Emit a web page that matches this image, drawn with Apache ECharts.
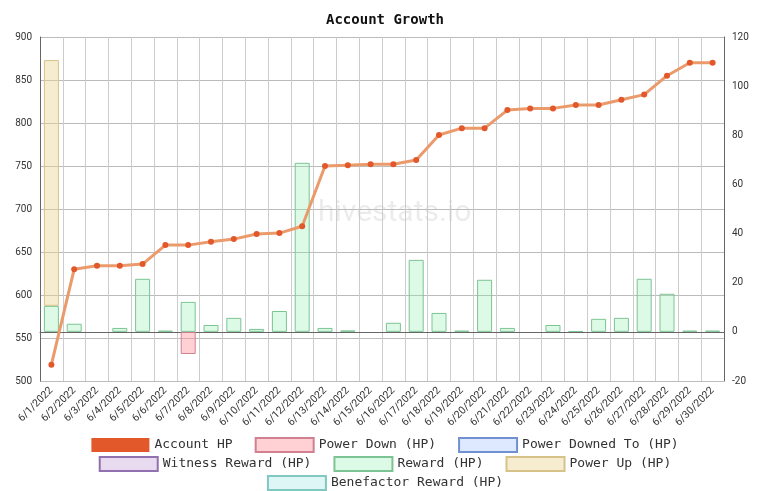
<!DOCTYPE html>
<html><head><meta charset="utf-8">
<script src="https://cdn.jsdelivr.net/npm/echarts@6/dist/echarts.min.js"></script>
<style>html,body{margin:0;background:#fff}#c{width:770px;height:491px}</style>
</head><body><div id="c"></div>
<script>
var days = []
for (var d = 1; d <= 30; d++) days.push('6/' + d + '/2022')

var accountHP = [519,630,634,634,636,658,658,662,665,671,672,680,750,751,752,752,757,786,794,794,815,817,817,821,821,827,833,855,870,870]
var reward = [10.6,3.3,null,1.6,21.6,0.5,12.2,2.8,5.7,1.2,8.5,68.8,1.6,0.6,null,3.7,29.3,7.7,0.5,21.2,1.6,null,2.8,0.3,5.3,5.7,21.6,15.5,0.5,0.5]
var powerUp = [100,null,null,null,null,null,null,null,null,null,null,null,null,null,null,null,null,null,null,null,null,null,null,null,null,null,null,null,null,null]
var powerDown = [null,null,null,null,null,null,-9,null,null,null,null,null,null,null,null,null,null,null,null,null,null,null,null,null,null,null,null,null,null,null]
var empty = days.map(() => null)

var font = 'DejaVu Sans Mono'
var chart = echarts.init(document.getElementById('c'))

var bar = (name, data, fill, border, stack) => ({
    name: name, type: 'bar', yAxisIndex: 1, stack: stack, data: data,
    barWidth: 15,
    itemStyle: {color: fill, borderColor: border, borderWidth: 1}
})

var legendBase = {
    itemWidth: 58, itemHeight: 14, itemGap: 22, icon: 'rect',
    textStyle: {fontFamily: font, fontSize: 13, color: '#333'}
}

chart.setOption({
    animation: false,
    title: {text: 'Account Growth', left: 'center', top: 8, textStyle: {fontFamily: font, fontSize: 14, fontWeight: 'bold', color: '#111'}},
    graphic: [{type: 'text', left: 318, top: 198, style: {text: 'hivestats.io', font: '30px Roboto', fill: 'rgba(0,0,0,0.08)'}}],
    legend: [
        Object.assign({top: 432, left: 'center', data: ['Account HP', 'Power Down (HP)', 'Power Downed To (HP)']}, legendBase),
        Object.assign({top: 451, left: 'center', data: ['Witness Reward (HP)', 'Reward (HP)', 'Power Up (HP)']}, legendBase),
        Object.assign({top: 470, left: 'center', data: ['Benefactor Reward (HP)']}, legendBase)
    ],
    grid: {left: 40, right: 46, top: 37, bottom: 110},
    xAxis: {
        type: 'category', data: days,
        axisLine: {lineStyle: {color: '#666'}},
        axisTick: {show: false},
        axisLabel: {rotate: 45, interval: 0, fontFamily: 'Roboto', fontSize: 10.5, color: '#333'},
        splitLine: {show: true, lineStyle: {color: '#ccc'}}
    },
    yAxis: [
        {type: 'value', min: 500, max: 900, interval: 50,
         axisLabel: {fontFamily: 'Roboto', fontSize: 10, color: '#333'},
         axisLine: {show: true, lineStyle: {color: '#666'}},
         splitLine: {lineStyle: {color: '#bbb'}}},
        {type: 'value', min: -20, max: 120, interval: 20,
         axisLabel: {fontFamily: 'Roboto', fontSize: 10, color: '#333'},
         axisLine: {show: true, lineStyle: {color: '#666'}},
         splitLine: {show: false}}
    ],
    series: [
        {name: 'Account HP', type: 'line', data: accountHP, z: 5,
         symbol: 'circle', symbolSize: 6,
         lineStyle: {color: '#eb9a6c', width: 3},
         itemStyle: {color: '#e2582b'}},
        bar('Power Down (HP)', powerDown, 'rgba(255,150,160,0.45)', '#d08090', 'a'),
        bar('Power Downed To (HP)', empty, 'rgba(160,190,255,0.35)', '#7090d0', 'a'),
        bar('Witness Reward (HP)', empty, 'rgba(190,150,210,0.35)', '#9070b0', 'a'),
        bar('Reward (HP)', reward, 'rgba(140,240,170,0.3)', '#7cc494', 'a'),
        bar('Power Up (HP)', powerUp, 'rgba(235,215,150,0.45)', '#d6c38a', 'a'),
        bar('Benefactor Reward (HP)', empty, 'rgba(160,230,225,0.35)', '#80c8c0', 'a')
    ]
})
</script></body></html>
